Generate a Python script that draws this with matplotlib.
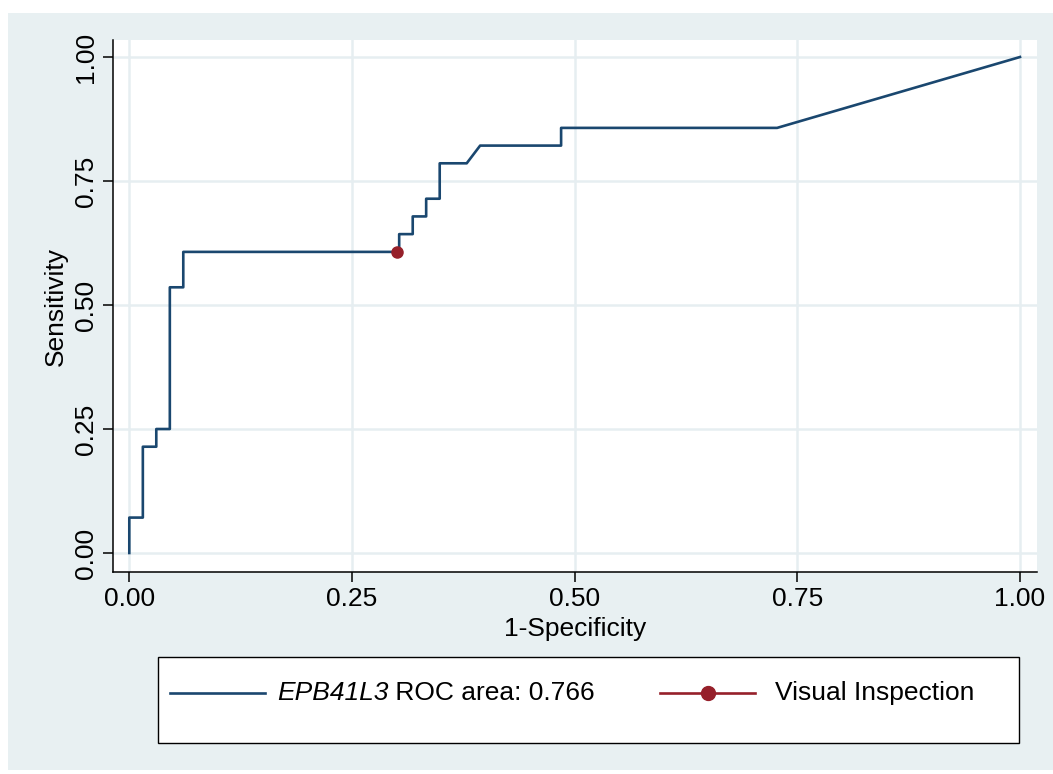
import matplotlib
matplotlib.use("Agg")
import matplotlib.pyplot as plt
from matplotlib.patches import Rectangle
from matplotlib.lines import Line2D

# ROC curve points (28 positives, 66 negatives)
fpr = [0.0, 0.0, 0.0152, 0.0152, 0.0303, 0.0303, 0.0455, 0.0455, 0.0606, 0.0606,
       0.3030, 0.3030, 0.3182, 0.3182, 0.3333, 0.3333, 0.3485, 0.3485, 0.3788,
       0.3939, 0.4848, 0.4848, 0.7273, 1.0]
tpr = [0.0, 0.0714, 0.0714, 0.2143, 0.2143, 0.25, 0.25, 0.5357, 0.5357, 0.6071,
       0.6071, 0.6429, 0.6429, 0.6786, 0.6786, 0.7143, 0.7143, 0.7857, 0.7857,
       0.8214, 0.8214, 0.8571, 0.8571, 1.0]
visual_x = [0.30]
visual_y = [0.6071]
gene = "EPB41L3"
auc_text = " ROC area: 0.766"
visual_label = "Visual Inspection"
ticks = [0.0, 0.25, 0.5, 0.75, 1.0]
tick_labels = ["0.00", "0.25", "0.50", "0.75", "1.00"]

plt.rcParams["font.family"] = ["Liberation Sans", "DejaVu Sans"]
fs = 19

W, H = 1053, 774
fig = plt.figure(figsize=(W / 100, H / 100), dpi=100, facecolor="white")

bg = "#e8f0f2"
fig.patches.append(Rectangle((8 / W, 1 - 770 / H), 1 - 8 / W, (770 - 13) / H,
                             transform=fig.transFigure, facecolor=bg,
                             edgecolor="none", zorder=-10))

ax = fig.add_axes([113 / W, 1 - 572 / H, (1037 - 113) / W, (572 - 40) / H])
ax.set_facecolor("white")

blue = "#1a476f"
red = "#96202a"
ax.plot(fpr, tpr, color=blue, linewidth=1.9, zorder=3)
ax.plot(visual_x, visual_y, "o", color=red, markersize=8, zorder=4)

ax.set_xlim(-0.0183, 1.0191)
ax.set_ylim(-0.0383, 1.0343)
ax.set_xticks(ticks)
ax.set_xticklabels(tick_labels)
ax.set_yticks(ticks)
ax.set_yticklabels(tick_labels, rotation=90, va="center")
ax.tick_params(direction="out", length=7, width=1.1, labelsize=fs, pad=4)
ax.grid(True, color="#e6eef1", linewidth=1.8)
ax.set_axisbelow(True)
for s in ["top", "right"]:
    ax.spines[s].set_visible(False)
for s in ["left", "bottom"]:
    ax.spines[s].set_linewidth(1.1)

ax.set_xlabel("1-Specificity", fontsize=fs, labelpad=4)
ax.set_ylabel("Sensitivity", fontsize=fs, labelpad=4)

# legend box, drawn by hand
fig.patches.append(Rectangle((158 / W, 1 - 743 / H), (1019 - 158) / W, (743 - 657) / H,
                             transform=fig.transFigure, facecolor="white",
                             edgecolor="black", linewidth=1.0, zorder=1))
ly = 1 - 693 / H
fig.lines.append(Line2D([170 / W, 265 / W], [ly, ly], transform=fig.transFigure,
                        color=blue, linewidth=1.9, zorder=2))
fig.lines.append(Line2D([660 / W, 755 / W], [ly, ly], transform=fig.transFigure,
                        color=red, linewidth=1.9, zorder=2))
fig.lines.append(Line2D([708 / W], [ly], transform=fig.transFigure, color=red,
                        marker="o", markersize=10, zorder=3))

t1 = fig.text(277 / W, ly, gene, fontsize=fs, style="italic", va="center", zorder=3)
fig.canvas.draw()
bb = t1.get_window_extent(renderer=fig.canvas.get_renderer())
fig.text(bb.x1 / W, ly, auc_text, fontsize=fs, va="center", zorder=3)
fig.text(775 / W, ly, visual_label, fontsize=fs, va="center", zorder=3)

plt.savefig("out.png", dpi=100, facecolor="white")
